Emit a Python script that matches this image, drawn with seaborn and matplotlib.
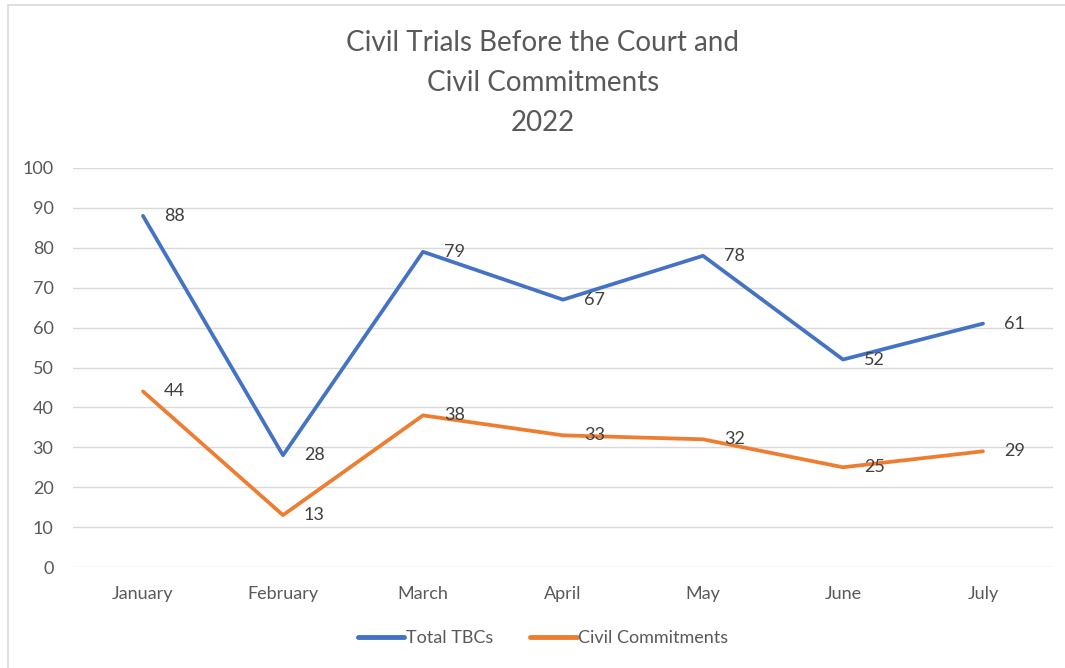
import matplotlib
matplotlib.use("Agg")
import matplotlib.pyplot as plt
import seaborn as sns
import pandas as pd
from matplotlib.patches import Rectangle
from matplotlib.lines import Line2D

months = ["January", "February", "March", "April", "May", "June", "July"]
total_tbcs = [88, 28, 79, 67, 78, 52, 61]
civil_commitments = [44, 13, 38, 33, 32, 25, 29]
series_names = ["Total TBCs", "Civil Commitments"]
colors = ["#4472C4", "#ED7D31"]

sns.set_theme(style="white")
plt.rcParams['font.family'] = ['Lato', 'DejaVu Sans']

df = pd.DataFrame({
    "Month": months * 2,
    "Value": total_tbcs + civil_commitments,
    "Series": [series_names[0]] * len(months) + [series_names[1]] * len(months),
})
df["x"] = list(range(len(months))) * 2

fig = plt.figure(figsize=(10.65, 6.68), dpi=100)
ax = fig.add_axes([73/1065, 101/668, 980/1065, 399/668])

sns.lineplot(data=df, x="x", y="Value", hue="Series", palette=colors,
             linewidth=2.7, ax=ax, legend=False, sort=False)

ax.set_xlim(-0.5, 6.5)
ax.set_ylim(0, 100)
ax.set_yticks(range(0, 101, 10))
ax.set_xticks(range(len(months)))
ax.set_xticklabels(months)
ax.grid(axis="y", color="#D9D9D9", linewidth=1)
ax.grid(axis="x", visible=False)
for s in ax.spines.values():
    s.set_visible(False)
ax.tick_params(axis="both", length=0, labelsize=13, colors="#595959")
ax.tick_params(axis="y", pad=14)
ax.tick_params(axis="x", pad=14)
ax.set_xlabel("")
ax.set_ylabel("")

for vals in (total_tbcs, civil_commitments):
    for i, v in enumerate(vals):
        ax.annotate(str(v), (i, v), xytext=(15, 0), textcoords="offset points",
                    va="center", ha="left", fontsize=13, color="#404040")

fig.text(543/1065, 1 - 83/668, "Civil Trials Before the Court and\nCivil Commitments\n2022",
         ha="center", va="center", fontsize=20, color="#595959", linespacing=1.67)

handles = [Line2D([0], [0], color=c, linewidth=3.5, solid_capstyle="round") for c in colors]
fig.legend(handles, series_names, loc="center", bbox_to_anchor=(543/1065, 1 - 638/668),
           ncol=2, frameon=False, fontsize=13, handlelength=2.6, handletextpad=0.1,
           columnspacing=2.0, labelcolor="#595959")

fig.patches.append(Rectangle((8/1065, -0.01), 1.0, 1 - 5/668 + 0.01, transform=fig.transFigure,
                             fill=False, edgecolor="#D9D9D9", linewidth=1.2))

fig.savefig("out.png", dpi=100, facecolor="white")
